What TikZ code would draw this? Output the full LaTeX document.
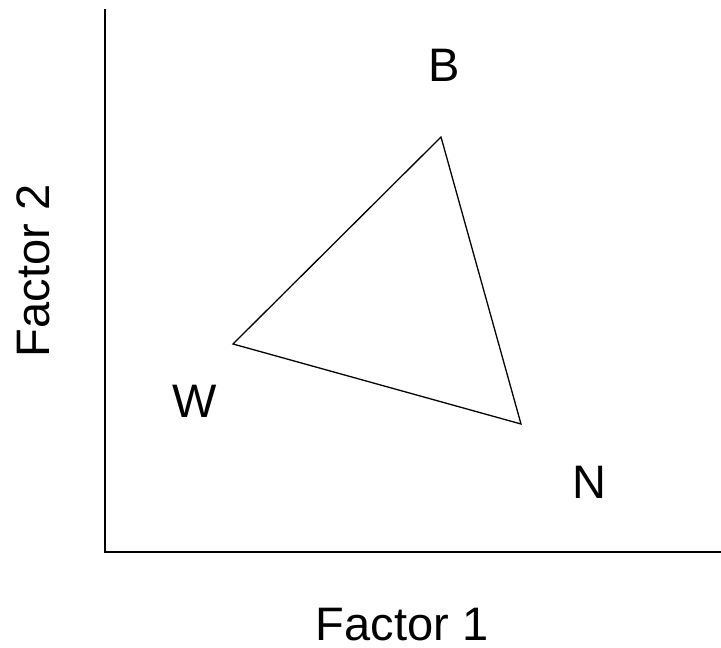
\documentclass[tikz,border=0pt]{standalone}
\usepackage{fontspec}
\setmainfont{Liberation Sans}
\usetikzlibrary{positioning}

\begin{document}
\begin{tikzpicture}[
    x=1pt, y=-1pt,
    axis/.style={draw, line width=2.4pt},
    edge/.style={draw, line width=1.3pt, line join=miter},
    vlabel/.style={inner sep=0pt, font=\fontsize{47}{54}\selectfont},
    alabel/.style={inner sep=0pt, font=\fontsize{47}{54}\selectfont}
]
    \useasboundingbox (0,0) rectangle (721,648);

    % axes
    \coordinate (top) at (105,9);
    \coordinate (origin) at (105,552);
    \coordinate (right) at (721,552);
    \draw[axis] (top) -- (origin) -- (right);

    % triangle
    \coordinate (b) at (441,137);
    \coordinate (w) at (233,344);
    \coordinate (n) at (521,424);
    \draw[edge] (b) -- (w) -- (n) -- cycle;

    \node[vlabel] (blabel) at (444,65.5) {B};
    \node[vlabel] (wlabel) at (195,401) {W};
    \node[vlabel] (nlabel) at (589,482) {N};

    \node[alabel] (xlabel) at (402,625) {Factor 1};
    \node[alabel, rotate=90] (ylabel) at (33,271) {Factor 2};
\end{tikzpicture}
\end{document}
